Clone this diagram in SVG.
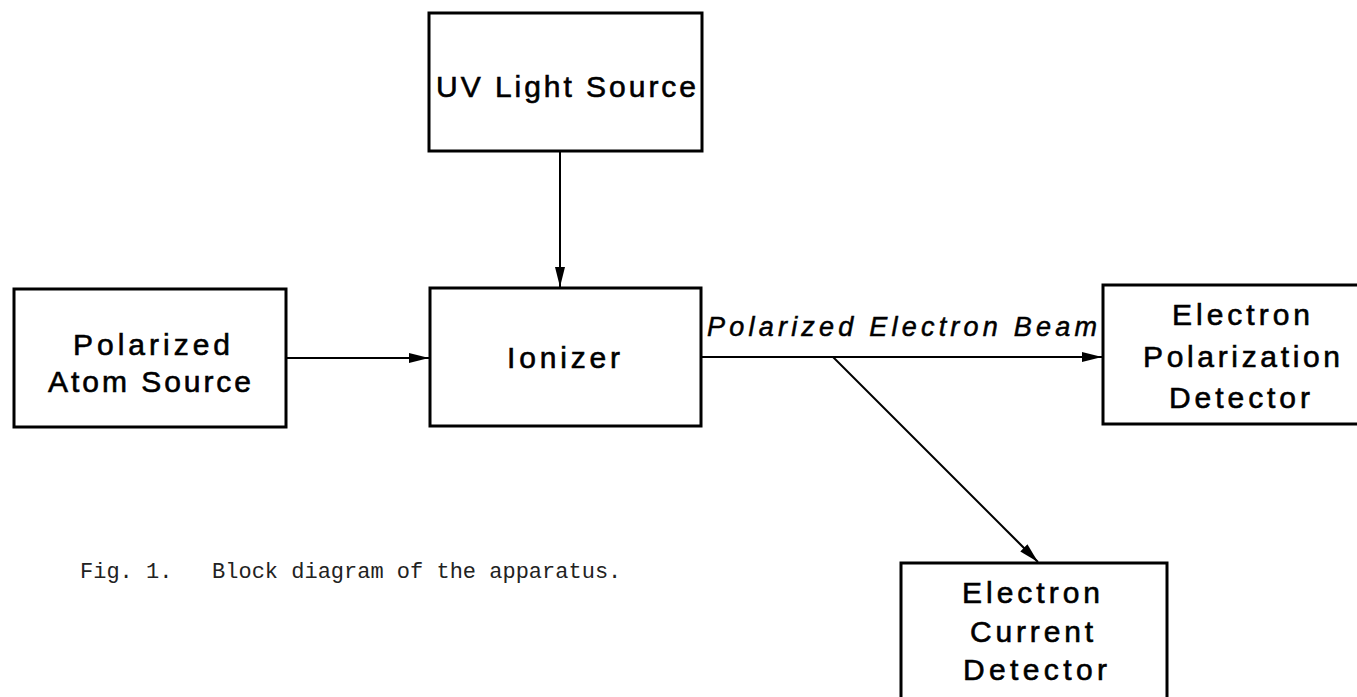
<svg xmlns="http://www.w3.org/2000/svg" width="1357" height="697" viewBox="0 0 1357 697">
<style>
  .box { fill: #fff; stroke: #000; stroke-width: 3; }
  .lbl { font-family: "Liberation Sans", Arial, sans-serif; font-size: 30px; fill: #000; stroke: #000; stroke-width: 0.6; }
  .beam { font-family: "Liberation Sans", Arial, sans-serif; font-size: 27px; font-style: italic; fill: #000; stroke: #000; stroke-width: 0.5; }
  .cap { font-family: "Liberation Mono", "Courier New", monospace; font-size: 22px; fill: #222; }
  .conn { stroke: #000; stroke-width: 2; fill: none; marker-end: url(#arr); }
</style>
<defs>
  <marker id="arr" markerUnits="userSpaceOnUse" markerWidth="22" markerHeight="12" refX="20" refY="5" orient="auto">
    <path d="M0,0 L20,5 L0,10 z" fill="#000"/>
  </marker>
</defs>
<rect width="1357" height="697" fill="#fff"/>
<g id="connectors">
  <line class="conn" x1="560" y1="151" x2="560" y2="287"/>
  <line class="conn" x1="286" y1="358" x2="429" y2="358"/>
  <line class="conn" x1="701" y1="357" x2="1102" y2="357"/>
  <line class="conn" x1="833" y1="357" x2="1038" y2="562"/>
</g>
<g id="uv-light-source">
  <rect class="box" x="429" y="13" width="273" height="138"/>
  <text class="lbl" x="436" y="97" textLength="260" lengthAdjust="spacing">UV Light Source</text>
</g>
<g id="polarized-atom-source">
  <rect class="box" x="14" y="289" width="272" height="138"/>
  <text class="lbl" x="73" y="355" textLength="157" lengthAdjust="spacing">Polarized</text>
  <text class="lbl" x="48" y="392" textLength="203" lengthAdjust="spacing">Atom Source</text>
</g>
<g id="ionizer">
  <rect class="box" x="430" y="288" width="271" height="138"/>
  <text class="lbl" x="507" y="368" textLength="113" lengthAdjust="spacing">Ionizer</text>
</g>
<g id="beam-label">
  <text class="beam" x="707" y="336" textLength="390" lengthAdjust="spacing">Polarized Electron Beam</text>
</g>
<g id="electron-polarization-detector">
  <rect class="box" x="1103" y="285" width="270" height="139"/>
  <text class="lbl" x="1172" y="325" textLength="138" lengthAdjust="spacing">Electron</text>
  <text class="lbl" x="1143" y="367" textLength="197" lengthAdjust="spacing">Polarization</text>
  <text class="lbl" x="1169" y="408" textLength="141" lengthAdjust="spacing">Detector</text>
</g>
<g id="electron-current-detector">
  <rect class="box" x="901" y="563" width="266" height="145"/>
  <text class="lbl" x="962" y="603" textLength="138" lengthAdjust="spacing">Electron</text>
  <text class="lbl" x="970" y="642" textLength="123" lengthAdjust="spacing">Current</text>
  <text class="lbl" x="963" y="680" textLength="144" lengthAdjust="spacing">Detector</text>
</g>
<g id="caption">
  <text class="cap" x="80" y="578" xml:space="preserve">Fig. 1.   Block diagram of the apparatus.</text>
</g>
</svg>
